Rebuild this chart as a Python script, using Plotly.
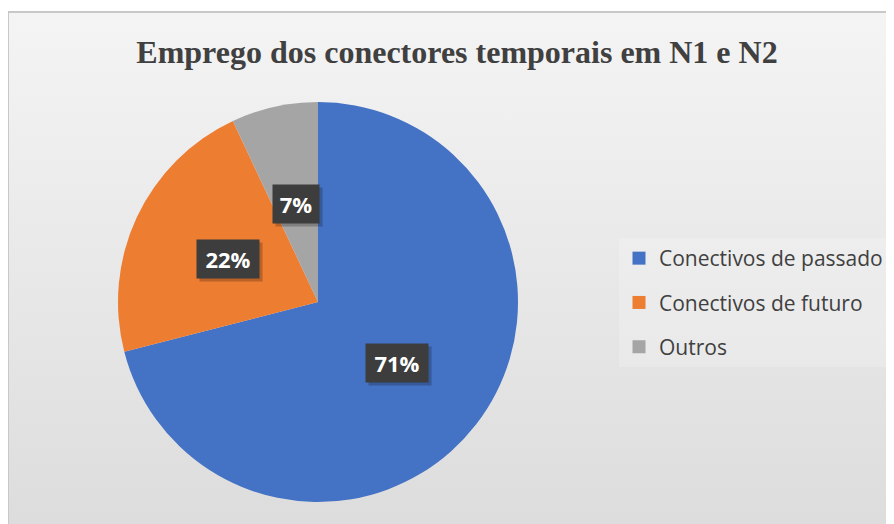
import math

import plotly.graph_objects as go

W, H = 894, 524
OFF = 8  # page body margin shifts the figure by 8px

labels = ["Conectivos de passado", "Conectivos de futuro", "Outros"]
values = [71, 22, 7]
colors = ["#4472C4", "#ED7D31", "#A5A5A5"]
title = "Emprego dos conectores temporais em N1 e N2"

# pie geometry in figure pixels
cx, cy, r = 318 - OFF, 302 - OFF, 200

fig = go.Figure()

# chart area background (light gray gradient with thin border)
fig.add_trace(
    go.Scatter(
        x=[0, W + 5, W + 5, 0, 0],
        y=[12 - OFF, 12 - OFF, H + 5, H + 5, 12 - OFF],
        mode="lines",
        fill="toself",
        line=dict(color="#c8c8c8", width=2),
        fillgradient=dict(type="vertical", colorscale=[[0, "#dcdcdc"], [1, "#f4f4f4"]]),
        hoverinfo="skip",
        showlegend=False,
    )
)

fig.add_trace(
    go.Pie(
        labels=labels,
        values=values,
        marker=dict(colors=colors, line=dict(width=0)),
        sort=False,
        direction="clockwise",
        rotation=0,
        textinfo="none",
        showlegend=False,
        domain=dict(x=[(cx - r) / W, (cx + r) / W], y=[(H - cy - r) / H, (H - cy + r) / H]),
    )
)

# legend entries (square swatches) spaced like the reference
for i, (lab, col) in enumerate(zip(labels, colors)):
    fig.add_trace(
        go.Scatter(
            x=[None], y=[None], mode="markers", name=lab,
            marker=dict(symbol="square", size=13, color=col),
            legendgroup=f"g{i}",
        )
    )

# boxed percentage labels at half radius on each slice's mid angle
total = sum(values)
acc = 0
for v in values:
    mid = (acc + v / 2) / total * 2 * math.pi
    acc += v
    x = cx + 0.5 * r * math.sin(mid)
    y = cy - 0.5 * r * math.cos(mid)
    txt = f"{round(v / total * 100)}%"
    bw = 16 * len(txt) + 2
    fig.add_annotation(
        x=x + 3, y=y + 3, xref="x", yref="y", text=" ", showarrow=False,
        width=bw, height=26, font=dict(size=20),
        bgcolor="rgba(0,0,0,0.22)", borderpad=6,
    )
    fig.add_annotation(
        x=x, y=y, xref="x", yref="y", text=f"<b>{txt}</b>", showarrow=False,
        width=bw, height=26,
        font=dict(family="Open Sans", size=22, color="white"),
        bgcolor="#3d3d3d", borderpad=6,
    )

fig.update_layout(
    width=W,
    height=H,
    margin=dict(l=0, r=0, t=0, b=0),
    paper_bgcolor="white",
    plot_bgcolor="rgba(0,0,0,0)",
    title=dict(
        text="<b>" + title + "</b>",
        x=(457 - OFF) / W,
        xanchor="center",
        y=1 - (52 - OFF) / H,
        yanchor="middle",
        font=dict(family="Liberation Serif", size=32, color="#404040"),
    ),
    xaxis=dict(range=[0, W], visible=False, fixedrange=True),
    yaxis=dict(range=[H, 0], visible=False, fixedrange=True),
    legend=dict(
        x=611 / W,
        y=1 - (238 - OFF) / H,
        xanchor="left",
        yanchor="top",
        tracegroupgap=14,
        font=dict(family="Open Sans", size=21, color="#404040"),
        bgcolor="rgba(255,255,255,0.2)",
    ),
    showlegend=True,
)

fig.write_html("out.html")
